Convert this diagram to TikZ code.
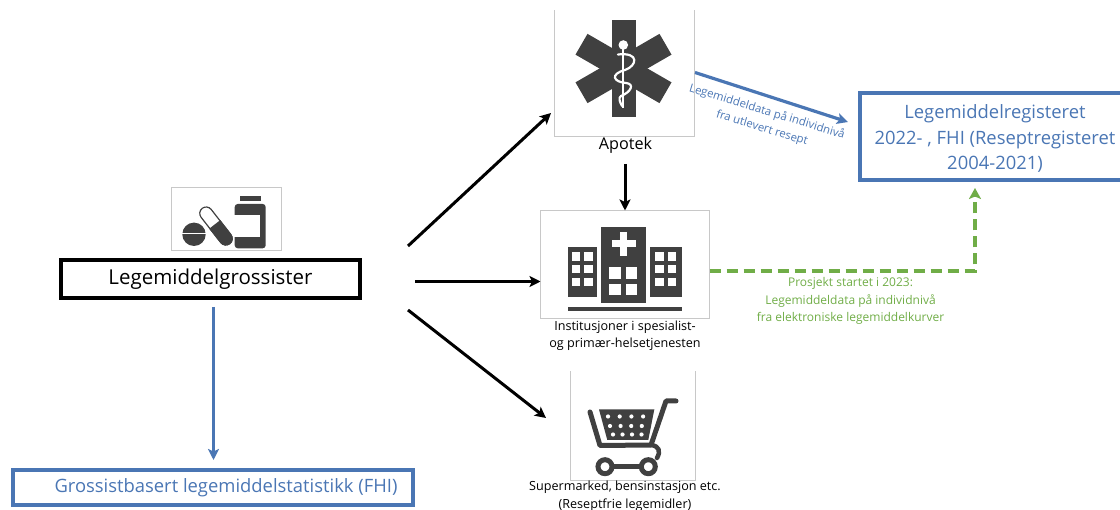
\documentclass[tikz,border=0pt]{standalone}
\usepackage{fontspec}
\setmainfont{Open Sans}
\usetikzlibrary{arrows.meta}
\definecolor{bluec}{HTML}{4A76B4}
\definecolor{greenc}{HTML}{70AD47}
\definecolor{iconc}{HTML}{404040}
\definecolor{framec}{HTML}{C8C8C8}
\tikzset{
 frame/.style={inner sep=0pt,outer sep=0pt},
 framedraw/.style={draw=framec,line width=1pt},
 mainbox/.style={draw=black,line width=3.05pt,inner sep=0pt,outer sep=0pt,font=\fontsize{20.5}{24}\selectfont},
 bluebox/.style={draw=bluec,line width=3.05pt,inner sep=0pt,outer sep=0pt,text=bluec,align=center},
 caption/.style={inner sep=0pt,align=center,font=\fontsize{12.6}{17.5}\selectfont},
 blackarrow/.style={draw=black,line width=3pt,-{Stealth[length=11pt,width=11pt,inset=2.5pt]}},
 bluearrow/.style={draw=bluec,line width=3.2pt,-{Stealth[length=11pt,width=11pt,inset=2.5pt]}},
 greenarrow/.style={draw=greenc,line width=3.4pt,dash pattern=on 11pt off 6pt,-{Stealth[length=11pt,width=12pt,inset=2.5pt]}},
 icon/.style={fill=iconc,draw=none},
 iconline/.style={draw=iconc,line cap=round,line join=round,line width=5pt},
 hole/.style={fill=white,draw=none},
}
\begin{document}
\begin{tikzpicture}[x=1pt,y=-1pt]
\useasboundingbox (0,0) rectangle (1120,510);
\clip (0,0) rectangle (1120,510);
% frames
\node[frame,minimum width=110pt,minimum height=63pt] (pills) at (226,219) {};
\draw[framedraw] (pills.north west) rectangle (pills.south east);
\node[frame,minimum width=140pt,minimum height=126pt] (apotek) at (624,73.5) {};
\draw[framedraw] (apotek.north west)--(apotek.south west)--(apotek.south east)--(apotek.north east);
\node[frame,minimum width=169pt,minimum height=108pt] (inst) at (625,264.5) {};
\draw[framedraw] (inst.north west) rectangle (inst.south east);
\node[frame,minimum width=125pt,minimum height=109pt] (cart) at (633,426) {};
\draw[framedraw] (cart.north west)--(cart.south west)--(cart.south east)--(cart.north east);
% pills icon
\fill[icon] (194,234.3) circle (11.7);
\draw[white,line width=1.2pt] (181,233.5) -- (207,233.5);
\begin{scope}[shift={(216,226)},rotate=-52]
 \draw[draw=iconc,line width=1.2pt,fill=white] (-16,-6.4) -- (16,-6.4) arc (-90:90:6.4) -- (-16,6.4) arc (90:270:6.4) -- cycle;
 \fill[icon] (-2,-7) -- (16,-7) arc (-90:90:7) -- (-2,7) -- cycle;
\end{scope}
\fill[icon] (240,196) rectangle (261,201.3);
\fill[icon,rounded corners=3pt] (234.7,204) rectangle (265.7,248.3);
\fill[hole] (234,215) rectangle (260,236.7);
% star of life
\begin{scope}[shift={(623.5,68.5)}]
 \foreach \a in {0,60,120}{
  \fill[icon,rotate=\a] (-12,-48.5) rectangle (12,48.5);
 }
\end{scope}
\fill[hole] (623.3,45) circle (4.8);
\draw[white,line width=2.2pt] (623.3,47) -- (623.3,108);
\draw[white,line width=2.2pt,line cap=round] (618,54.5) .. controls (640,52) and (637,66) .. (625,70) .. controls (610,74) and (613,82) .. (626,83) .. controls (635,84) and (631,92) .. (621,96) .. controls (618,98) and (620,102) .. (622,106);
% hospital
\fill[icon] (601,227) rectangle (645.7,302.7);
\fill[icon] (567.7,247) rectangle (596.7,296.7);
\fill[icon] (650,247) rectangle (682,296.7);
\fill[icon] (567.7,306.7) rectangle (682,310.7);
\fill[hole] (611.7,240.5) rectangle (635.7,247.5);
\fill[hole] (620.2,232) rectangle (627.2,256);
\foreach \y in {252.3,265,277.7}{
 \fill[hole] (571.7,\y) rectangle ++(8.3,8.3);
 \fill[hole] (584.3,\y) rectangle ++(8.3,8.3);
 \fill[hole] (655.3,\y) rectangle ++(8.3,8.3);
 \fill[hole] (668,\y) rectangle ++(8.3,8.3);
}
\foreach \y in {267.3,284}{
 \fill[hole] (609.3,\y) rectangle ++(11.4,11.4);
 \fill[hole] (626,\y) rectangle ++(11.4,11.4);
}
% cart
\draw[iconline] (676,401) -- (666,401) -- (651,445) -- (600,445.5) -- (590,412);
\draw[iconline,line width=4.5pt] (651,445) .. controls (659,446) and (661,451) .. (657,458);
\fill[icon] (599,409.5) -- (654.3,409.5) -- (648.3,440) -- (607.3,440) -- cycle;
\foreach \y/\xa/\st in {416.5/606/11.7,426/608/10.6,434.5/611/9.5}{
 \foreach \i in {0,1,2,3}{
  \fill[hole] ({\xa+2+\i*\st},\y) circle (2.1);
 }
}
\draw[iconc,line width=5pt] (605,466.7) circle (7);
\draw[iconc,line width=5pt] (648.3,466.7) circle (7);
\draw[iconc,line width=5pt] (613,466.7) -- (640,466.7);
% texts and boxes
\node[mainbox,minimum width=299pt,minimum height=38pt] (gross) at (210.5,279) {Legemiddelgrossister};
\node[bluebox,minimum width=400pt,minimum height=35pt,font=\fontsize{18.4}{20}\selectfont] (stat) at (213,487.5) {\hspace*{26pt}Grossistbasert legemiddelstatistikk (FHI)};
\node[bluebox,minimum width=290pt,minimum height=87pt,anchor=west] (reg) at (860,136.5) {};
\node[text=bluec,align=center,inner sep=0pt,font=\fontsize{18.4}{25.5}\selectfont] (regtext) at (995,138.5) {Legemiddelregisteret\\2022- , FHI (Reseptregisteret\\2004-2021)};
\node[inner sep=0pt,font=\fontsize{16.2}{18}\selectfont] (aptext) at (625.5,145.5) {Apotek};
\node[caption] (insttext) at (625,335.5) {Institusjoner i spesialist-\\og primær-helsetjenesten};
\node[caption] (carttext) at (625,496) {Supermarked, bensinstasjon etc.\\(Reseptfrie legemidler)};
\node[inner sep=0pt,align=center,text=bluec,rotate=-17,font=\fontsize{11.4}{17}\selectfont] (bluelabel) at (764.5,120) {Legemiddeldata på individnivå\\fra utlevert resept};
\node[inner sep=0pt,align=center,text=greenc,font=\fontsize{12}{17.5}\selectfont] (greenlabel) at (850.5,301) {Prosjekt startet i 2023:\\Legemiddeldata på individnivå\\fra elektroniske legemiddelkurver};
% connector ends
\coordinate (g1) at (408,246);
\coordinate (g2) at (415,281.5);
\coordinate (g3) at (408,310);
\coordinate (a1) at (551,113);
\coordinate (c1) at (546,418);
\coordinate (ap1) at (625,164);
\coordinate (b1) at (695,72.5);
\coordinate (b2) at (848,122);
\coordinate (s1) at (213.5,307);
\coordinate (s2) at (213.5,460);
\coordinate (rg) at (975,188);
\draw[blackarrow] (g1) -- (a1);
\draw[blackarrow] (g2) -- (inst.west |- g2);
\draw[blackarrow] (g3) -- (c1);
\draw[blackarrow] (ap1) -- (ap1 |- inst.north);
\draw[bluearrow] (b1) -- (b2);
\draw[bluearrow] (s1) -- (s2);
\draw[greenarrow] (inst.east |- 0,271) -- (rg |- 0,271) -- (rg);
\end{tikzpicture}
\end{document}
